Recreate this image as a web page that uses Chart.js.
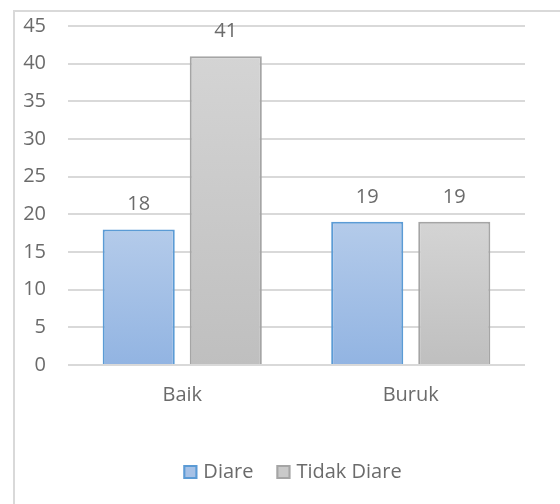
<!DOCTYPE html>
<html>
<head>
<meta charset="utf-8">
<script src="https://cdn.jsdelivr.net/npm/chart.js@4"></script>
<style>
  body { margin: 0; background: #fff; }
  #wrap { position: relative; width: 560px; height: 504px; overflow: hidden; }
  #frame { position: absolute; left: 13px; top: 10px; width: 600px; height: 600px; border: 2px solid #d9d9d9; box-sizing: border-box; }
  canvas { position: absolute; left: 0; top: 0; }
</style>
</head>
<body>
<div id="wrap">
  <div id="frame"></div>
  <canvas id="diareChart" width="560" height="504"></canvas>
</div>
<script>
const categories = ['Baik', 'Buruk'];
const diare = [18, 19];
const tidakDiare = [41, 19];
const yTicks = [0, 5, 10, 15, 20, 25, 30, 35, 40, 45];

const textColor = '#6b6b6b';
const fontFamily = '"Open Sans", "Noto Sans", sans-serif';
const fontSize = 20;

const legendItems = [
  { text: 'Diare', fill: '#a6c1e6', stroke: '#5b9bd5' },
  { text: 'Tidak Diare', fill: '#c9c9c9', stroke: '#a5a5a5' }
];

// per-bar vertical gradient, lighter at the top
function barGradient(top, bottom) {
  return (c) => {
    const chart = c.chart;
    if (!chart.chartArea || c.raw === undefined) return bottom;
    const y = chart.scales.y;
    const g = chart.ctx.createLinearGradient(0, y.getPixelForValue(c.raw), 0, y.getPixelForValue(0));
    g.addColorStop(0, top);
    g.addColorStop(1, bottom);
    return g;
  };
}

// value labels above each bar
const valueLabels = {
  id: 'valueLabels',
  afterDatasetsDraw(chart) {
    const ctx = chart.ctx;
    ctx.save();
    ctx.font = fontSize + 'px ' + fontFamily;
    ctx.fillStyle = textColor;
    ctx.textAlign = 'center';
    ctx.textBaseline = 'middle';
    chart.data.datasets.forEach((ds, i) => {
      chart.getDatasetMeta(i).data.forEach((bar, j) => {
        ctx.fillText(ds.data[j], bar.x, bar.y - 25);
      });
    });
    ctx.restore();
  }
};

// compact legend under the chart (box close to its text, like Excel)
const bottomLegend = {
  id: 'bottomLegend',
  afterDraw(chart) {
    const ctx = chart.ctx;
    const box = 14, gapText = 6, gapItem = 23;
    const cy = 472;
    ctx.save();
    ctx.font = fontSize + 'px ' + fontFamily;
    ctx.textBaseline = 'middle';
    const widths = legendItems.map(it => box + gapText + ctx.measureText(it.text).width);
    const total = widths.reduce((a, b) => a + b, 0) + gapItem * (legendItems.length - 1);
    const area = chart.chartArea;
    let x = (area.left + area.right) / 2 - total / 2 - 4;
    legendItems.forEach((it, i) => {
      ctx.fillStyle = it.fill;
      ctx.strokeStyle = it.stroke;
      ctx.lineWidth = 2;
      ctx.fillRect(x, cy - box / 2, box, box);
      ctx.strokeRect(x + 1, cy - box / 2 + 1, box - 2, box - 2);
      ctx.fillStyle = textColor;
      ctx.fillText(it.text, x + box + gapText, cy);
      x += widths[i] + gapItem;
    });
    ctx.restore();
  }
};

const ctx = document.getElementById('diareChart').getContext('2d');
new Chart(ctx, {
  type: 'bar',
  data: {
    labels: categories,
    datasets: [
      {
        label: 'Diare',
        data: diare,
        backgroundColor: barGradient('#b4cbea', '#92b4e2'),
        borderColor: '#5b9bd5',
        borderWidth: 2
      },
      {
        label: 'Tidak Diare',
        data: tidakDiare,
        backgroundColor: barGradient('#d4d4d4', '#bfbfbf'),
        borderColor: '#a5a5a5',
        borderWidth: 2
      }
    ]
  },
  options: {
    responsive: false,
    animation: false,
    devicePixelRatio: 1,
    layout: { padding: { left: 0, right: 35, top: 26, bottom: 0 } },
    datasets: {
      bar: { categoryPercentage: 0.762, barPercentage: 0.828 }
    },
    scales: {
      x: {
        grid: { display: false },
        border: { display: false },
        ticks: { color: textColor, font: { family: fontFamily, size: fontSize }, padding: 10 },
        afterFit: (s) => { s.height = 139; s.paddingLeft = 0; s.paddingRight = 0; }
      },
      y: {
        min: 0,
        max: 45,
        afterBuildTicks: (s) => { s.ticks = yTicks.map(v => ({ value: v })); },
        grid: { color: '#d9d9d9', lineWidth: 2, drawTicks: false },
        border: { display: false },
        ticks: { color: textColor, font: { family: fontFamily, size: fontSize }, padding: 22 },
        afterFit: (s) => { s.width = 68; s.paddingTop = 0; s.paddingBottom = 0; }
      }
    },
    plugins: {
      tooltip: { enabled: false },
      legend: { display: false }
    }
  },
  plugins: [valueLabels, bottomLegend]
});
</script>
</body>
</html>
